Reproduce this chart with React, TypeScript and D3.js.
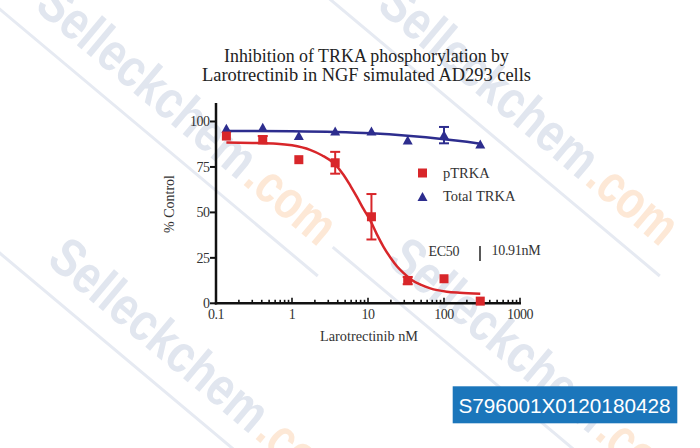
import React from 'react';
import * as d3 from 'd3';

// ---- data ----
const doses = [0.137, 0.412, 1.23, 3.7, 11.1, 33.3, 100, 300];
const pTRKA = [92, 90, 79, 77.3, 47.6, 12.5, 13.5, 1.2];
const pTRKAErr = [0, 2, 0, 6, 12.5, 2, 0, 0];
const totalTRKA = [96, 96.5, 92, 94.5, 94.5, 89.5, 92.5, 87.3];
const totalTRKAErr = [0, 0, 0, 0, 0, 0, 4.5, 0];

const pFitDose = [0.137, 0.3, 0.63, 1, 1.73, 2.5, 3.6, 4.78, 5.9, 7.17, 8.8, 10.7, 13, 16, 20, 24, 30, 36, 50, 66, 109, 160, 300];
const pFitVal = [88.4, 88.2, 87.8, 86.9, 84.4, 81.3, 76.8, 70.6, 64.5, 58.4, 51.6, 45.6, 38.2, 31.1, 24.8, 20.4, 16.3, 13.4, 10.1, 8.2, 6.4, 5.8, 5.2];
const tFitDose = [0.137, 1, 3.7, 11, 33, 100, 200, 300];
const tFitVal = [94.8, 94.6, 94.2, 93.5, 92.2, 90.3, 88.8, 87.8];

const yTicks = [0, 25, 50, 75, 100];
const xTickLabels = [0.1, 1, 10, 100, 1000];

const titleLines = ['Inhibition of TRKA phosphorylation by', 'Larotrectinib in NGF simulated AD293 cells'];
const legendLabels = ['pTRKA', 'Total TRKA'];
const xLabel = 'Larotrectinib nM';
const yLabel = '% Control';
const ec50Label = 'EC50';
const ec50Value = '10.91nM';
const badgeText = 'S796001X0120180428';
const wmWord = 'Selleckchem';
const wmSuffix = '.com';

const RED = '#d8262a';
const BLUE = '#2d2d8e';
const SERIF = '"Liberation Serif", "Times New Roman", serif';
const SANS = '"Liberation Sans", Arial, sans-serif';

const wmAnchors = [
  [240, 182], [582, 182],
  [252, 436], [592, 436],
];

export default function App() {
  const x = d3.scaleLog().domain([0.1, 1000]).range([216, 520]);
  const y = d3.scaleLinear().domain([0, 100]).range([303.3, 121.5]);

  const line = d3.line<[number, number]>()
    .x(d => x(d[0]))
    .y(d => y(d[1]))
    .curve(d3.curveMonotoneX);

  const pPath = line(pFitDose.map((d, i) => [d, pFitVal[i]] as [number, number])) || '';
  const tPath = line(tFitDose.map((d, i) => [d, tFitVal[i]] as [number, number])) || '';

  const allTicks = x.ticks(10).filter(t => t > 0.1 + 1e-9);
  const isMajor = (t: number) => Math.abs(Math.log10(t) - Math.round(Math.log10(t))) < 1e-6;

  const tri = (cx: number, cy: number, w = 10, h = 8) =>
    `M${cx},${cy - h / 2 - 1}L${cx + w / 2},${cy + h / 2}L${cx - w / 2},${cy + h / 2}Z`;

  const errBar = (cx: number, v: number, e: number, color: string, key: string) => {
    if (!e) return null;
    const y1 = y(v + e), y2 = y(v - e);
    return (
      <g key={key} stroke={color} strokeWidth={2}>
        <line x1={cx} x2={cx} y1={y1} y2={y2} />
        <line x1={cx - 5} x2={cx + 5} y1={y1} y2={y1} />
        <line x1={cx - 5} x2={cx + 5} y1={y2} y2={y2} />
      </g>
    );
  };

  return (
    <svg width={700} height={448} style={{ position: 'absolute', left: 0, top: 0, background: '#fff' }}
      fontFamily={SERIF}>
      <rect x={0} y={0} width={700} height={448} fill="#fff" />
      {/* watermark */}
      <g>
        {wmAnchors.map(([ax, ay], i) => (
          <g key={i} transform={`translate(${ax},${ay}) rotate(40)`}>
            <line x1={-320} x2={120} y1={22} y2={22} stroke="#e6eaf2" strokeWidth={3} />
            <text x={-270} y={0} fontFamily={SANS} fontWeight="bold" fontSize={54} fill="#e1e6ef"
              textLength={268} lengthAdjust="spacingAndGlyphs">{wmWord}</text>
            <text x={2} y={0} fontFamily={SANS} fontWeight="bold" fontSize={54} fill="#fde8d6"
              textLength={100} lengthAdjust="spacingAndGlyphs">{wmSuffix}</text>
          </g>
        ))}
      </g>

      {/* title */}
      <text x={366.5} y={61.5} textAnchor="middle" fontSize={19} fill="#222"
        textLength={285} lengthAdjust="spacingAndGlyphs">{titleLines[0]}</text>
      <text x={366.5} y={80.5} textAnchor="middle" fontSize={19} fill="#222"
        textLength={329} lengthAdjust="spacingAndGlyphs">{titleLines[1]}</text>

      {/* axes */}
      <line x1={216} x2={216} y1={103} y2={304.5} stroke="#111" strokeWidth={2.5} />
      <line x1={214.8} x2={x(1000) + 1} y1={y(0)} y2={y(0)} stroke="#111" strokeWidth={2.5} />
      {yTicks.map(t => (
        <g key={'yt' + t}>
          <line x1={210} x2={216} y1={y(t)} y2={y(t)} stroke="#111" strokeWidth={2} />
          <text x={209.5} y={y(t)} dy="0.35em" textAnchor="end" fontSize={14} fill="#333"
            letterSpacing={-0.5}>{t}</text>
        </g>
      ))}
      {allTicks.map((t, i) => (
        <line key={'xt' + i} x1={x(t)} x2={x(t)} y1={y(0)} y2={y(0) - (isMajor(t) ? 5.5 : 3.5)}
          stroke="#111" strokeWidth={1.6} />
      ))}
      {xTickLabels.map(t => (
        <text key={'xl' + t} x={x(t)} y={318.5} textAnchor="middle" fontSize={14} fill="#333"
          letterSpacing={-0.5}>{String(t)}</text>
      ))}
      <text x={369} y={341} textAnchor="middle" fontSize={14} fill="#333"
        textLength={98} lengthAdjust="spacingAndGlyphs">{xLabel}</text>
      <text transform="translate(174,204) rotate(-90)" textAnchor="middle" fontSize={14} fill="#333">{yLabel}</text>

      {/* fitted curves */}
      <path d={tPath} fill="none" stroke={BLUE} strokeWidth={2.5} />
      <path d={pPath} fill="none" stroke={RED} strokeWidth={2.5} />

      {/* error bars */}
      {doses.map((d, i) => errBar(x(d), totalTRKA[i], totalTRKAErr[i], BLUE, 'te' + i))}
      {doses.map((d, i) => errBar(x(d), pTRKA[i], pTRKAErr[i], RED, 'pe' + i))}

      {/* markers */}
      {doses.map((d, i) => (
        <path key={'tm' + i} d={tri(x(d), y(totalTRKA[i]))} fill={BLUE} />
      ))}
      {doses.map((d, i) => (
        <rect key={'pm' + i} x={x(d) - 4.5} y={y(pTRKA[i]) - 4.5} width={9} height={9} fill={RED} />
      ))}

      {/* legend */}
      <rect x={418} y={168.5} width={9} height={9} fill={RED} />
      <text x={443} y={177.5} fontSize={14.5} fill="#333">{legendLabels[0]}</text>
      <path d={tri(422.5, 197)} fill={BLUE} />
      <text x={443} y={201} fontSize={14.5} fill="#333">{legendLabels[1]}</text>

      {/* EC50 */}
      <text x={428.5} y={255.5} fontSize={14} fill="#333" letterSpacing={-0.3}>{ec50Label}</text>
      <line x1={480} x2={480} y1={246} y2={261} stroke="#222" strokeWidth={1.5} />
      <text x={491.5} y={254.5} fontSize={14} fill="#333" letterSpacing={-0.3}>{ec50Value}</text>

      {/* badge */}
      <rect x={452.7} y={386.3} width={224.6} height={37} fill="#1b76bb" />
      <text x={458.5} y={413.3} fontFamily={SANS} fontSize={21}
        fill="#fff" textLength={212} lengthAdjust="spacingAndGlyphs">{badgeText}</text>
    </svg>
  );
}
